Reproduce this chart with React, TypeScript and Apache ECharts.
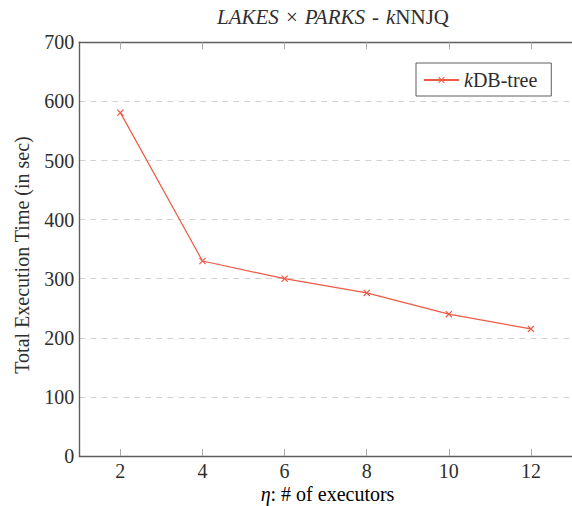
import React, { useEffect, useRef } from "react";
import * as echarts from "echarts";

const executors = [2, 4, 6, 8, 10, 12];
const kdbTree = [581, 330, 300, 276, 240, 215];
const xTicks = [2, 4, 6, 8, 10, 12];
const seriesName = "kDB-tree";
const titleParts = ["LAKES", "PARKS", "k", "NNJQ"];
const yTitle = "Total Execution Time (in sec)";
const xTitle = ": # of executors";

const FONT = "Liberation Serif";
const FS = 20;
const TFS = 21;
const RED = "#ee5a45";
const AXIS = "#5e5e5e";
const TXT = "#2e2e2e";
const XMARK = "path://M0,1.2L1.2,0L5,3.8L8.8,0L10,1.2L6.2,5L10,8.8L8.8,10L5,6.2L1.2,10L0,8.8L3.8,5Z";

export default function App() {
  const ref = useRef<HTMLDivElement>(null);
  useEffect(() => {
    if (!ref.current) return;
    const chart = echarts.init(ref.current, undefined, { renderer: "svg" });
    const italic = { fontFamily: FONT, fontStyle: "italic" as const, fontWeight: "normal" as const, fontSize: FS, color: TXT };
    const upright = { fontFamily: FONT, fontStyle: "normal" as const, fontWeight: "normal" as const, fontSize: FS, color: TXT };
    const tItalic = { ...italic, fontSize: TFS };
    const tUpright = { ...upright, fontSize: TFS };
    chart.setOption({
      animation: false,
      backgroundColor: "#fff",
      textStyle: { fontFamily: FONT, fontWeight: "normal", fontSize: FS },
      title: {
        text: `{i|${titleParts[0]}}{s|×}{i|${titleParts[1]}}{s|-}{i|${titleParts[2]}}{u|${titleParts[3]}}`,
        left: 328,
        top: 1,
        textAlign: "center",
        textStyle: {
          fontFamily: FONT,
          fontWeight: "normal",
          fontSize: TFS,
          rich: { i: tItalic, u: tUpright, s: { ...tUpright, padding: [0, 7, 0, 7] } },
        },
      },
      legend: {
        left: 416,
        top: 63,
        orient: "vertical",
        padding: [7, 14, 6, 7],
        borderColor: AXIS,
        borderWidth: 1,
        itemWidth: 35,
        itemHeight: 8,
        formatter: () => `{i|k}{u|DB-tree}`,
        textStyle: { fontFamily: FONT, fontSize: FS, rich: { i: italic, u: upright } },
        data: [seriesName],
      },
      grid: { left: 79.3, top: 42.3, right: -4, bottom: 50 },
      xAxis: [
        {
          type: "value",
          min: 1,
          max: 13,
          position: "bottom",
          axisLine: { show: true, lineStyle: { color: AXIS, width: 1.4 } },
          axisTick: { show: true, inside: true, length: 7, customValues: xTicks, lineStyle: { color: "#aaa", width: 1 } },
          axisLabel: { show: true, customValues: xTicks, margin: 5, fontFamily: FONT, fontSize: FS, color: TXT },
          splitLine: { show: false },
        },
        {
          type: "value",
          min: 1,
          max: 13,
          position: "top",
          axisLine: { show: true, lineStyle: { color: AXIS, width: 1.4 } },
          axisTick: { show: true, inside: true, length: 7, customValues: xTicks, lineStyle: { color: "#aaa", width: 1 } },
          axisLabel: { show: false },
          splitLine: { show: false },
        },
      ],
      yAxis: {
        type: "value",
        min: 0,
        max: 700,
        interval: 100,
        axisLine: { show: true, lineStyle: { color: AXIS, width: 1.4 } },
        axisTick: { show: false },
        axisLabel: { margin: 5, fontFamily: FONT, fontSize: FS, color: TXT },
        splitLine: { show: true, lineStyle: { color: "#d2d2d2", type: [6, 5], width: 1 } },
      },
      graphic: [
        {
          type: "text",
          x: 22,
          y: 255,
          rotation: Math.PI / 2,
          style: {
            text: yTitle,
            fontFamily: FONT,
            fontSize: FS,
            fill: TXT,
            textAlign: "center",
            textVerticalAlign: "middle",
          },
        },
        {
          type: "text",
          x: 327.5,
          y: 494,
          style: {
            text: `{i|η}{u|${xTitle}}`,
            fontFamily: FONT,
            fontSize: FS,
            textAlign: "center",
            textVerticalAlign: "middle",
            rich: { i: italic, u: upright },
          },
        },
      ],
      series: [
        {
          name: seriesName,
          type: "line",
          xAxisIndex: 0,
          data: executors.map((x, i) => [x, kdbTree[i]]),
          symbol: XMARK,
          symbolSize: 7,
          showSymbol: true,
          lineStyle: { color: RED, width: 1.2 },
          itemStyle: { color: RED },
        },
      ],
    });
    return () => chart.dispose();
  }, []);
  return <div ref={ref} style={{ position: "absolute", left: 0, top: 0, width: 572, height: 506 }} />;
}
